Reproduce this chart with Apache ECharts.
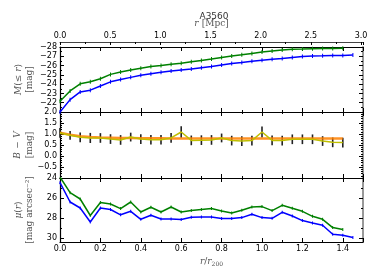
<!DOCTYPE html>
<html><head><meta charset="utf-8">
<script src="https://cdn.jsdelivr.net/npm/echarts@6/dist/echarts.min.js"></script>
<style>html,body{margin:0;padding:0;background:#fff}#c{width:374px;height:280px}</style>
</head><body><div id="c"></div>
<script>
const radii = [0,0.05,0.1,0.15,0.2,0.25,0.3,0.35,0.4,0.45,0.5,0.55,0.6,0.65,0.7,0.75,0.8,0.85,0.9,0.95,1.0,1.05,1.1,1.15,1.2,1.25,1.3,1.35,1.4,1.45];
const magGreen = [-22.15,-23.27,-24.04,-24.25,-24.58,-25.05,-25.31,-25.53,-25.71,-25.89,-26.0,-26.15,-26.25,-26.4,-26.55,-26.7,-26.87,-27.02,-27.16,-27.31,-27.45,-27.56,-27.67,-27.75,-27.78,-27.82,-27.85,-27.85,-27.86];
const magBlue = [-21.0,-22.33,-23.16,-23.35,-23.8,-24.25,-24.5,-24.73,-24.95,-25.13,-25.27,-25.42,-25.53,-25.64,-25.77,-25.9,-26.07,-26.22,-26.33,-26.47,-26.58,-26.69,-26.76,-26.87,-26.98,-27.02,-27.05,-27.09,-27.09,-27.13];
const bvYellow = [1.05,0.94,0.85,0.82,0.82,0.77,0.73,0.86,0.77,0.74,0.74,0.82,1.09,0.71,0.72,0.73,0.82,0.70,0.68,0.70,1.09,0.71,0.70,0.76,0.76,0.76,0.68,0.62,0.61];
const bvErr = [0.22,0.2,0.22,0.23,0.22,0.22,0.22,0.2,0.22,0.22,0.22,0.22,0.26,0.22,0.22,0.22,0.2,0.22,0.22,0.22,0.25,0.22,0.22,0.22,0.22,0.22,0.22,0.22,0.22];
const bvFit = [1.06,0.97,0.9,0.86,0.84,0.83,0.82,0.82,0.81,0.81,0.81,0.8,0.8,0.8,0.8,0.8,0.8,0.8,0.8,0.8,0.8,0.8,0.8,0.8,0.8,0.8,0.8,0.8,0.8];
const muGreen = [23.9,25.47,26.1,27.75,26.45,26.6,27.06,26.4,27.4,26.93,27.4,26.9,27.4,27.26,27.16,27.06,27.3,27.5,27.23,26.9,26.86,27.26,26.73,27.03,27.33,27.83,28.13,28.96,29.16];
const muBlue = [24.47,26.4,27.0,28.4,27.0,27.15,27.68,27.33,28.13,27.73,28.1,28.1,28.16,27.93,27.9,27.9,28.06,28.06,27.96,27.63,27.96,28.03,27.43,27.8,28.26,28.5,28.73,29.63,29.73,29.96];
const mpcTicks = [0,0.5,1.0,1.5,2.0,2.5,3.0];
const rTicks = [0,0.2,0.4,0.6,0.8,1.0,1.2,1.4];
const magTicks = [-28,-27,-26,-25,-24,-23,-22];
const bvTicks = [2.0,1.5,1.0,0.5,0.0,-0.5];
const muTicks = [24,26,28,30];

const pair = (ys) => ys.map((y, i) => [radii[i], y]);
const near = (v, arr) => arr.some(t => Math.abs(t - v) < 1e-6);
const fmtNum = (v, d) => (v < -1e-9 ? '\u2212' : '') + Math.abs(v).toFixed(d);

const FONT = 'DejaVu Sans';
const SERIF = 'DejaVu Serif';
const lab = { fontFamily: FONT, fontSize: 8, color: '#000' };
const nameRich = {
  i: { fontFamily: SERIF, fontStyle: 'italic', fontSize: 9, color: '#555', lineHeight: 11 },
  n: { fontFamily: SERIF, fontSize: 9, color: '#555', lineHeight: 11 },
  s: { fontFamily: SERIF, fontSize: 6, color: '#555', verticalAlign: 'bottom', padding: [5, 0, 0, 0] }
};
const tickIn = { show: true, inside: true, length: 4, lineStyle: { color: '#000', width: 1 } };
const minorIn = (n) => ({ show: true, splitNumber: n, length: 2, lineStyle: { color: '#000', width: 1 } });

function rAxis(grid, pos, showLabels) {
  return {
    type: 'value', gridIndex: grid, position: pos, min: 0, max: 1.5, interval: 0.2,
    axisLine: { show: true, onZero: false, lineStyle: { color: '#000', width: 1.2 } },
    axisTick: tickIn, minorTick: minorIn(2), splitLine: { show: false },
    axisLabel: showLabels ? Object.assign({}, lab, { margin: 3, formatter: v => near(v, rTicks) ? v.toFixed(1) : '' }) : { show: false }
  };
}
function yAx(grid, pos, min, max, interval, ticks, fmt, minorN) {
  const left = pos === 'left';
  return {
    type: 'value', gridIndex: grid, position: pos, inverse: fmt.inverse, min: min, max: max, interval: interval,
    axisLine: { show: true, onZero: false, lineStyle: { color: left ? '#000' : '#999', width: left ? 1.2 : 2 } },
    axisTick: tickIn, minorTick: minorIn(minorN), splitLine: { show: false },
    axisLabel: left ? Object.assign({}, lab, { margin: 3, formatter: v => near(v, ticks) ? fmtNum(v, fmt.d) : '' }) : { show: false },
    name: left ? fmt.name : '', nameLocation: 'middle', nameRotate: 90, nameGap: fmt.gap,
    nameMoveOverlap: false,
    nameTextStyle: { rich: nameRich, align: 'center' }
  };
}
function curve(xi, yi, ys, col, size) {
  return { type: 'line', xAxisIndex: xi, yAxisIndex: yi, data: pair(ys), color: col,
    lineStyle: { width: 1.5, color: col }, symbol: 'rect', symbolSize: [1, size], itemStyle: { color: col } };
}

const chart = echarts.init(document.getElementById('c'), null, { renderer: 'canvas' });
chart.setOption({
  animation: false,
  backgroundColor: '#fff',
  title: { text: 'A3560', left: 209, top: 7, textAlign: 'center', textStyle: { fontFamily: FONT, fontSize: 9, fontWeight: 'normal', color: '#333' } },
  grid: [
    { left: 60, right: 11, top: 47, height: 65 },
    { left: 60, right: 11, top: 112, height: 66 },
    { left: 60, right: 11, top: 178, height: 64 }
  ],
  xAxis: [
    rAxis(0, 'bottom', false),
    rAxis(0, 'top', false),
    {
      type: 'value', gridIndex: 0, position: 'top', offset: 5, min: 0, max: 3.02, interval: 0.5,
      axisLine: { show: true, onZero: false, lineStyle: { color: '#444', width: 1 } },
      axisTick: { show: true, inside: true, length: 3, lineStyle: { color: '#000' } },
      minorTick: { show: true, splitNumber: 2, length: 2, lineStyle: { color: '#000' } },
      splitLine: { show: false },
      axisLabel: Object.assign({}, lab, { margin: 2, formatter: v => near(v, mpcTicks) ? v.toFixed(1) : '' }),
      name: '{i|r} {n|[Mpc]}', nameLocation: 'middle', nameGap: 12,
      nameTextStyle: { rich: nameRich }
    },
    rAxis(1, 'bottom', false),
    rAxis(1, 'top', false),
    Object.assign(rAxis(2, 'bottom', true), {
      name: '{i|r}{n|/}{i|r}{s|200}', nameLocation: 'middle', nameGap: 14,
      nameTextStyle: { rich: nameRich }
    }),
    rAxis(2, 'top', false)
  ],
  yAxis: [
    yAx(0, 'left', -28, -21, 1, magTicks, { inverse: true, d: 0, gap: 25, name: '{i|M}{n|(\u2264 }{i|r}{n|)}\n{n|[mag]}' }, 2),
    yAx(0, 'right', -28, -21, 1, magTicks, { inverse: true, d: 0 }, 2),
    yAx(1, 'left', -1, 2, 0.5, bvTicks, { inverse: false, d: 1, gap: 25, name: '{i|B} {n|\u2212} {i|V}\n{n|[mag]}' }, 5),
    yAx(1, 'right', -1, 2, 0.5, bvTicks, { inverse: false, d: 1 }, 5),
    yAx(2, 'left', 24, 30.4, 2, muTicks, { inverse: true, d: 0, gap: 25, name: '{i|\u03bc}{n|(}{i|r}{n|)}\n{n|[mag arcsec\u207b\u00b2]}' }, 2),
    yAx(2, 'right', 24, 30.4, 2, muTicks, { inverse: true, d: 0 }, 2)
  ],
  series: [
    curve(0, 0, magGreen, '#008000', 4),
    curve(0, 0, magBlue, '#0000ff', 4),
    { type: 'line', xAxisIndex: 3, yAxisIndex: 2, data: pair(bvFit), color: '#ff8000', lineStyle: { width: 2.5, opacity: 0.85, color: '#ff8000' }, symbol: 'none' },
    { type: 'line', xAxisIndex: 3, yAxisIndex: 2, data: pair(bvYellow), color: '#bfbf00', lineStyle: { width: 1.5, color: '#bfbf00' }, symbol: 'none' },
    {
      type: 'custom', xAxisIndex: 3, yAxisIndex: 2,
      data: bvYellow.map((y, i) => [radii[i], y, bvErr[i]]),
      encode: { x: 0, y: 1 },
      renderItem: function (params, api) {
        const x = api.value(0), y = api.value(1), e = api.value(2);
        const p1 = api.coord([x, y + e]), p2 = api.coord([x, y - e]);
        return { type: 'line', shape: { x1: p1[0], y1: p1[1], x2: p2[0], y2: p2[1] }, style: { stroke: '#222', lineWidth: 1.6 } };
      }
    },
    curve(5, 4, muGreen, '#008000', 3),
    curve(5, 4, muBlue, '#0000ff', 3)
  ]
});
</script></body></html>
